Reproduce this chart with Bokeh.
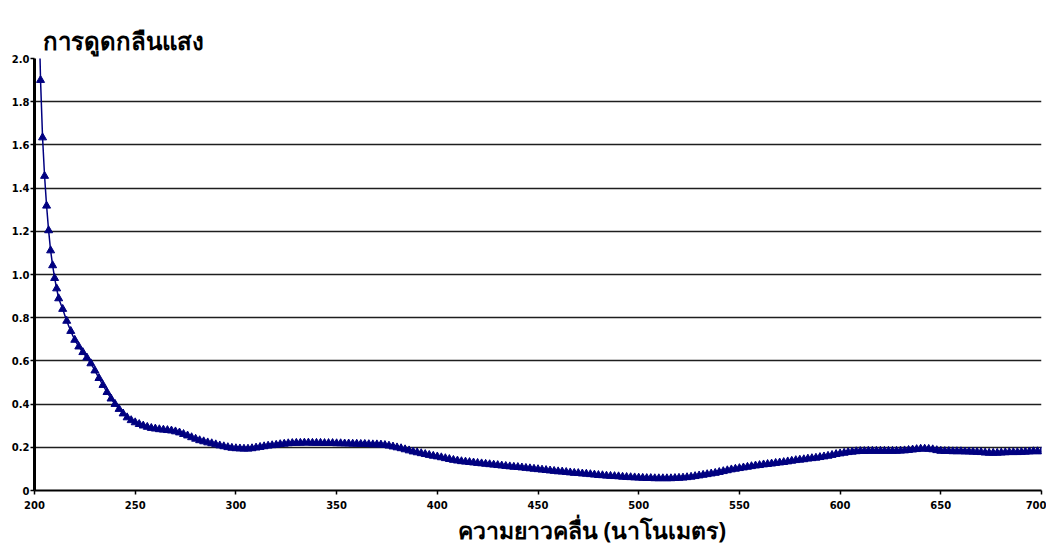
from bokeh.plotting import figure
from bokeh.models import FixedTicker, Range1d, Title
from bokeh.embed import file_html
from bokeh.resources import INLINE

# ---- data ----
wl_fine = list(range(202, 213))
abs_fine = [2.30, 1.90, 1.634, 1.456, 1.318, 1.204, 1.111, 1.042, 0.983, 0.935, 0.889]

wl_coarse = list(range(214, 701, 2))
abs_coarse = [
    0.840, 0.785, 0.738,                                                   # 214-218
    0.697, 0.666, 0.640, 0.615, 0.588, 0.555, 0.520, 0.488, 0.455, 0.425,  # 220-238
    0.400, 0.377, 0.356, 0.338, 0.325, 0.315, 0.307, 0.300, 0.294, 0.289,  # 240-258
    0.286, 0.283, 0.281, 0.279, 0.277, 0.273, 0.268, 0.261, 0.254, 0.246,  # 260-278
    0.239, 0.232, 0.227, 0.222, 0.218, 0.213, 0.208, 0.204, 0.200, 0.197,  # 280-298
    0.195, 0.194, 0.193, 0.193, 0.195, 0.198, 0.201, 0.204, 0.207, 0.209,  # 300-318
    0.211, 0.214, 0.216, 0.218, 0.219, 0.220, 0.220, 0.221, 0.221, 0.220,  # 320-338
    0.220, 0.220, 0.219, 0.219, 0.219, 0.218, 0.218, 0.217, 0.217, 0.216,  # 340-358
    0.216, 0.215, 0.215, 0.214, 0.213, 0.213, 0.212, 0.210, 0.207, 0.203,  # 360-378
    0.199, 0.195, 0.190, 0.185, 0.180, 0.176, 0.172, 0.168, 0.164, 0.160,  # 380-398
    0.157, 0.153, 0.149, 0.145, 0.141, 0.138, 0.135, 0.133, 0.131, 0.129,  # 400-418
    0.127, 0.125, 0.123, 0.121, 0.119, 0.117, 0.115, 0.113, 0.111, 0.109,  # 420-438
    0.108, 0.106, 0.104, 0.102, 0.100, 0.098, 0.096, 0.094, 0.092, 0.090,  # 440-458
    0.088, 0.087, 0.085, 0.083, 0.081, 0.080, 0.078, 0.077, 0.075, 0.073,  # 460-478
    0.071, 0.070, 0.068, 0.067, 0.066, 0.065, 0.063, 0.062, 0.061, 0.060,  # 480-498
    0.059, 0.058, 0.057, 0.057, 0.056, 0.056, 0.056, 0.056, 0.056, 0.057,  # 500-518
    0.058, 0.059, 0.061, 0.063, 0.066, 0.069, 0.072, 0.075, 0.078, 0.081,  # 520-538
    0.085, 0.089, 0.093, 0.097, 0.100, 0.103, 0.106, 0.109, 0.112, 0.115,  # 540-558
    0.117, 0.120, 0.122, 0.124, 0.127, 0.129, 0.131, 0.134, 0.137, 0.140,  # 560-578
    0.142, 0.144, 0.147, 0.149, 0.151, 0.154, 0.157, 0.160, 0.164, 0.168,  # 580-598
    0.171, 0.174, 0.177, 0.179, 0.181, 0.182, 0.182, 0.183, 0.183, 0.183,  # 600-618
    0.183, 0.183, 0.183, 0.183, 0.183, 0.184, 0.185, 0.187, 0.189, 0.191,  # 620-638
    0.193, 0.193, 0.192, 0.190, 0.186, 0.183, 0.182, 0.182, 0.181, 0.181,  # 640-658
    0.181, 0.180, 0.180, 0.179, 0.178, 0.177, 0.175, 0.174, 0.174, 0.174,  # 660-678
    0.175, 0.176, 0.177, 0.177, 0.177, 0.178, 0.179, 0.180, 0.181, 0.181,  # 680-698
    0.181,                                                                 # 700
]
assert len(wl_coarse) == len(abs_coarse)

wavelength = wl_fine + wl_coarse
absorbance = abs_fine + abs_coarse

x_ticks = [200, 250, 300, 350, 400, 450, 500, 550, 600, 650, 700]
y_ticks = [0, 0.2, 0.4, 0.6, 0.8, 1.0, 1.2, 1.4, 1.6, 1.8, 2.0]
y_tick_labels = ["0", "0.2", "0.4", "0.6", "0.8", "1.0", "1.2", "1.4", "1.6", "1.8", "2.0"]

title_text = "การดูดกลืนแสง"
xlabel_text = "ความยาวคลื่น (นาโนเมตร)"

NAVY = "#000080"
THAI_FONT = "Noto Sans"
TICK_FONT = "DejaVu Sans"

p = figure(width=1046, height=548,
           x_range=Range1d(200, 700), y_range=Range1d(0, 2.0),
           output_backend="svg", toolbar_location=None,
           min_border_left=34, min_border_right=5,
           min_border_top=58, min_border_bottom=58)

p.outline_line_color = None
p.background_fill_color = "white"
p.border_fill_color = "white"

# axes
p.xaxis.ticker = FixedTicker(ticks=x_ticks)
p.yaxis.ticker = FixedTicker(ticks=y_ticks)
p.yaxis.major_label_overrides = {t: l for t, l in zip(y_ticks, y_tick_labels)}
for ax in (p.xaxis, p.yaxis):
    ax.axis_line_color = "black"
    ax.major_tick_line_color = "black"
    ax.major_tick_line_width = 1.5
    ax.major_tick_in = 0
    ax.major_tick_out = 4
    ax.minor_tick_line_color = None
    ax.major_label_text_font = TICK_FONT
    ax.major_label_text_font_style = "bold"
    ax.major_label_text_font_size = "10px"
    ax.major_label_text_color = "black"
p.yaxis.axis_line_width = 3
p.xaxis.axis_line_width = 2
p.yaxis.major_label_standoff = 1
p.xaxis.major_label_standoff = 6

# grid
p.xgrid.visible = False
p.ygrid.ticker = FixedTicker(ticks=y_ticks)
p.ygrid.grid_line_color = "#1e1e1e"
p.ygrid.grid_line_width = 1.6

# data
p.line(wavelength, absorbance, line_color=NAVY, line_width=1.5)
p.scatter(wavelength, absorbance, marker="triangle", size=8,
          fill_color=NAVY, line_color=NAVY)

# texts
p.title.text = title_text
p.title.align = "left"
p.title.offset = 8
p.title.standoff = 4
p.title.text_font = THAI_FONT
p.title.text_font_style = "bold"
p.title.text_font_size = "24px"
p.title.text_color = "black"

p.add_layout(Title(text=xlabel_text, align="left", offset=423, standoff=0,
                   text_font=THAI_FONT, text_font_style="bold",
                   text_font_size="23px", text_color="black"), "below")

open("out.html", "w").write(file_html(p, INLINE))
